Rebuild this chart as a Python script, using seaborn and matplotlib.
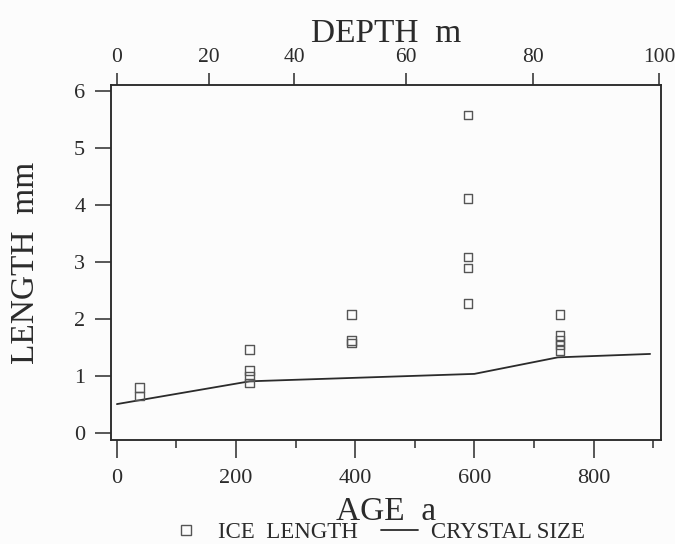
import numpy as np
import pandas as pd
import matplotlib
matplotlib.use("Agg")
import matplotlib.pyplot as plt
from matplotlib.lines import Line2D
import seaborn as sns

# ---- data ----
ice_age = [38, 38,
           223, 223, 223, 223,
           394, 394, 394,
           589, 589, 589, 589, 589,
           744, 744, 744, 744, 744]
ice_length = [0.79, 0.64,
              1.46, 1.09, 0.98, 0.87,
              2.07, 1.62, 1.57,
              5.57, 4.11, 3.08, 2.89, 2.27,
              2.07, 1.70, 1.62, 1.54, 1.44]

crystal_age = [0, 223, 600, 740, 895]
crystal_size = [0.50, 0.90, 1.03, 1.32, 1.38]

age_ticks = [0, 200, 400, 600, 800]
age_minor = [100, 300, 500, 700, 900]
length_ticks = [0, 1, 2, 3, 4, 5, 6]
depth_ticks = [0, 20, 40, 60, 80, 100]
depth_tick_age = [0, 154, 298, 485, 698, 910]

# ---- style ----
sns.set_theme(style="white")
plt.rcParams['font.family'] = ['Liberation Serif', 'DejaVu Serif']
ink = "#2b2b2b"
plt.rcParams.update({
    "axes.edgecolor": ink, "xtick.color": ink, "ytick.color": ink,
    "text.color": ink, "axes.labelcolor": ink,
})

fig = plt.figure(figsize=(6.75, 5.44), dpi=100)
fig.patch.set_facecolor("#fcfcfc")
ax = fig.add_axes([0.1644, 0.1912, 0.8146, 0.6526])
ax.set_facecolor("#fcfcfc")

df_ice = pd.DataFrame({"age": ice_age, "length": ice_length})
df_cry = pd.DataFrame({"age": crystal_age, "size": crystal_size})

sns.lineplot(data=df_cry, x="age", y="size", ax=ax, color=ink, lw=1.3,
             legend=False)
sns.scatterplot(data=df_ice, x="age", y="length", ax=ax, marker="s", s=38,
                facecolor="none", edgecolor="#555555", linewidth=1.0,
                legend=False, zorder=3)

xlim = (-10, 913)
ax.set_xlim(*xlim)
ax.set_ylim(-0.13, 6.1)

for sp in ax.spines.values():
    sp.set_visible(True)
    sp.set_linewidth(1.1)
    sp.set_color(ink)

ax.set_xticks(age_ticks)
ax.set_xticks(age_minor, minor=True)
ax.set_yticks(length_ticks)
ax.tick_params(axis="x", which="major", direction="out", length=13, width=1.1,
               labelsize=16, pad=8, bottom=True)
ax.tick_params(axis="x", which="minor", direction="out", length=6, width=1.1,
               bottom=True)
ax.tick_params(axis="y", direction="out", length=11.5, width=1.1,
               labelsize=16, pad=7, left=True)

ax.set_xlabel("AGE  a", fontsize=24, labelpad=6)
ax.set_ylabel("LENGTH  mm", fontsize=24, labelpad=24)

# top depth axis (non-linear relation to age)
ax2 = ax.twiny()
ax2.set_xlim(*xlim)
ax2.set_xticks(depth_tick_age)
ax2.set_xticklabels([str(d) for d in depth_ticks])
ax2.tick_params(axis="x", direction="out", length=8.5, width=1.1,
                labelsize=15.5, pad=4.5, top=True)
for sp in ax2.spines.values():
    sp.set_linewidth(1.1)
    sp.set_color(ink)
ax2.set_xlabel("DEPTH  m", fontsize=24, labelpad=4)

handles = [
    Line2D([], [], marker="s", linestyle="none", markersize=7,
           markerfacecolor="none", markeredgecolor="#555555",
           markeredgewidth=1.0, label="ICE  LENGTH"),
    Line2D([], [], color=ink, lw=1.3, label="CRYSTAL SIZE"),
]
fig.legend(handles=handles, loc="center", bbox_to_anchor=(0.558, 0.021),
           ncol=2, frameon=False, fontsize=16.5, handlelength=1.6,
           columnspacing=1.0, handletextpad=0.6, borderpad=0)

fig.savefig("out.png", dpi=100, facecolor=fig.get_facecolor())
